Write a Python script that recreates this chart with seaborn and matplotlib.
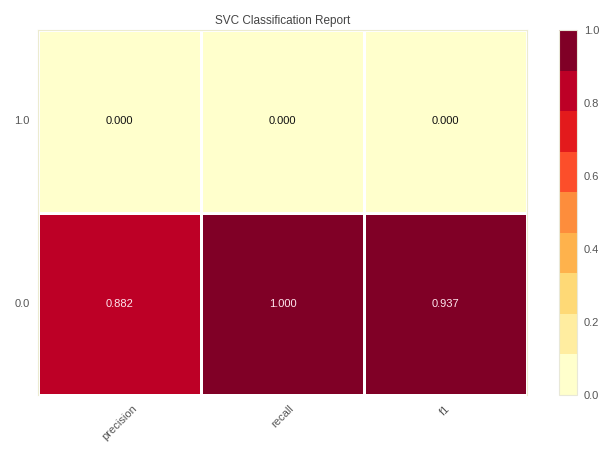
import matplotlib
matplotlib.use("Agg")
import matplotlib.pyplot as plt
from matplotlib.colors import ListedColormap
import numpy as np
import pandas as pd
import seaborn as sns

# Classification report scores per class
classes = ["1.0", "0.0"]
metrics = ["precision", "recall", "f1"]
precision = [0.000, 0.882]
recall = [0.000, 1.000]
f1 = [0.000, 0.937]

scores = pd.DataFrame({"precision": precision, "recall": recall, "f1": f1}, index=classes)[metrics]

# Discrete 9-step YlOrRd palette
ylorrd9 = ["#ffffcc", "#ffeda0", "#fed976", "#feb24c", "#fd8d3c",
           "#fc4e2a", "#e31a1c", "#bd0026", "#800026"]
cmap = ListedColormap(ylorrd9)

sns.set_theme(style="white")
plt.rcParams["font.family"] = ["Liberation Sans", "DejaVu Sans"]

W, H = 599, 453
fig = plt.figure(figsize=(W / 100, H / 100), dpi=100)
ax = fig.add_axes([38 / W, 1 - 395 / H, (527 - 38) / W, (395 - 30) / H])
cax = fig.add_axes([559 / W, 1 - 395 / H, 18 / W, (395 - 30) / H])

sns.heatmap(scores, ax=ax, cbar_ax=cax, cmap=cmap, vmin=0, vmax=1,
            annot=True, fmt=".3f", annot_kws={"fontsize": 8},
            linewidths=1.0, linecolor="white",
            cbar_kws={"ticks": [0.0, 0.2, 0.4, 0.6, 0.8, 1.0]})

for t in ax.texts:
    if t.get_text() == "0.000":
        t.set_color("#111111")
    else:
        t.set_color("#ffe6ee")

ax.set_title("SVC Classification Report", fontsize=8.5, color="#444444", pad=4)
ax.set_xlabel("")
ax.set_ylabel("")
ax.set_xticklabels(metrics, rotation=45, ha="center", fontsize=8, color="#555555")
ax.set_yticklabels(classes, rotation=0, fontsize=8, color="#555555")
ax.tick_params(axis="both", length=0, pad=6)
for side in ["top", "left", "right"]:
    ax.spines[side].set_visible(True)
    ax.spines[side].set_color("#ecebd0")
    ax.spines[side].set_linewidth(0.8)

cbar = ax.collections[0].colorbar
cbar.set_ticklabels(["0.0", "0.2", "0.4", "0.6", "0.8", "1.0"])
cax.tick_params(labelsize=8, labelcolor="#555555", length=0, pad=5)
cbar.outline.set_edgecolor("#e8e8d8")
cbar.outline.set_linewidth(0.8)

fig.savefig("out.png", dpi=100, facecolor="white")
